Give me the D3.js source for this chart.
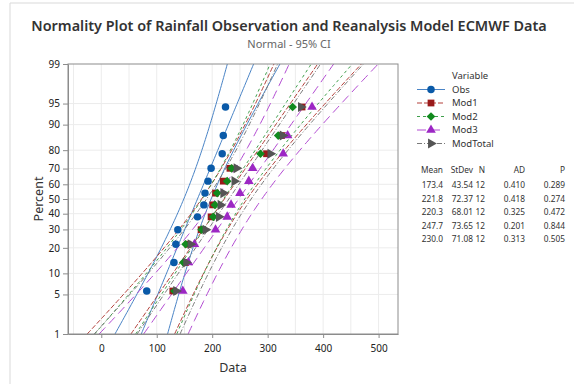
<!DOCTYPE html>
<html>
<head>
<meta charset="utf-8">
<script src="https://cdn.jsdelivr.net/npm/d3@7"></script>
<style>
  body { margin: 0; background: #fff; }
  svg { font-family: "Noto Sans", "Open Sans", sans-serif; }
</style>
</head>
<body>
<svg id="chart" width="574" height="384"></svg>
<script>
// data
const percentTicks = [1, 5, 10, 20, 30, 40, 50, 60, 70, 80, 90, 95, 99];
const xTicks = [0, 100, 200, 300, 400, 500];
const xGrid = [-50, 0, 50, 100, 150, 200, 250, 300, 350, 400, 450, 500];

const seriesNames = ["Obs", "Mod1", "Mod2", "Mod3", "ModTotal"];
const obs      = [82, 131, 134.5, 138, 173.5, 185, 187, 192.5, 198, 218, 220, 224];
const mod1     = [129, 152, 156, 180, 198, 201, 206, 220, 232, 298, 325, 362];
const mod2     = [132, 148, 152, 181, 202, 205, 209, 227, 235, 287, 319, 345];
const mod3     = [147, 157, 168, 206, 227, 234, 250, 266, 273, 328, 336, 380];
const modTotal = [135, 153, 161, 188, 212, 215, 220, 240, 244, 305, 327, 360];

const means  = [173.4, 221.8, 220.3, 247.7, 230.0];
const stdevs = [43.54, 72.37, 68.01, 73.65, 71.08];
const counts = [12, 12, 12, 12, 12];
const adVals = [0.410, 0.418, 0.325, 0.201, 0.313];
const pVals  = [0.289, 0.274, 0.472, 0.844, 0.505];

const styles = [
    { marker: "#0a5aa8", line: "#4a84c6", dash: null, symbol: d3.symbolCircle, size: 44, rot: 0 },
    { marker: "#9a1a1a", line: "#b3413b", dash: "5,2", symbol: d3.symbolSquare, size: 46, rot: 0 },
    { marker: "#118a1e", line: "#3f9f4c", dash: "3,3", symbol: d3.symbolSquare, size: 38, rot: 45 },
    { marker: "#9c27c4", line: "#b24ad2", dash: "9,5", symbol: d3.symbolTriangle, size: 40, rot: 0 },
    { marker: "#555555", line: "#7a7a7a", dash: "5,2,1,2", symbol: d3.symbolTriangle, size: 44, rot: 90 }
];

// inverse normal CDF (Acklam)
function probit(p) {
    const a = [-3.969683028665376e+01, 2.209460984245205e+02, -2.759285104469687e+02, 1.383577518672690e+02, -3.066479806614716e+01, 2.506628277459239e+00];
    const b = [-5.447609879822406e+01, 1.615858368580409e+02, -1.556989798598866e+02, 6.680131188771972e+01, -1.328068155288572e+01];
    const c = [-7.784894002430293e-03, -3.223964580411365e-01, -2.400758277161838e+00, -2.549671010050770e+00, 4.374664141464968e+00, 2.938163982698783e+00];
    const d = [7.784695709041462e-03, 3.224671290700398e-01, 2.445134137142996e+00, 3.754408661907416e+00];
    const pl = 0.02425;
    let q, r;
    if (p < pl) {
        q = Math.sqrt(-2 * Math.log(p));
        return (((((c[0]*q+c[1])*q+c[2])*q+c[3])*q+c[4])*q+c[5]) / ((((d[0]*q+d[1])*q+d[2])*q+d[3])*q+1);
    } else if (p <= 1 - pl) {
        q = p - 0.5; r = q * q;
        return (((((a[0]*r+a[1])*r+a[2])*r+a[3])*r+a[4])*r+a[5])*q / (((((b[0]*r+b[1])*r+b[2])*r+b[3])*r+b[4])*r+1);
    }
    q = Math.sqrt(-2 * Math.log(1 - p));
    return -(((((c[0]*q+c[1])*q+c[2])*q+c[3])*q+c[4])*q+c[5]) / ((((d[0]*q+d[1])*q+d[2])*q+d[3])*q+1);
}

const svg = d3.select("#chart");
const plot = { left: 68, right: 398, top: 64, bottom: 334 };

const x = d3.scaleLinear().domain([-60, 535]).range([plot.left, plot.right]);
const zMax = probit(0.99);
const y = d3.scaleLinear().domain([-zMax, zMax]).range([plot.bottom, plot.top]);

// outer frame lines
svg.append("line").attr("x1", 10).attr("x2", 10).attr("y1", 3).attr("y2", 384)
    .attr("stroke", "#d9d9d9");
svg.append("line").attr("x1", 10).attr("x2", 574).attr("y1", 3).attr("y2", 3)
    .attr("stroke", "#d9d9d9");

// titles
const title = svg.append("text")
    .attr("x", 289).attr("y", 31)
    .attr("text-anchor", "middle")
    .attr("font-size", 15).attr("font-weight", 600).attr("fill", "#333")
    .text("Normality Plot of Rainfall Observation and Reanalysis Model ECMWF Data");
const tw = title.node().getComputedTextLength();
title.attr("font-size", 15 * 516 / tw);

svg.append("text")
    .attr("x", 289).attr("y", 48)
    .attr("text-anchor", "middle")
    .attr("font-size", 11).attr("fill", "#666")
    .text("Normal - 95% CI");

// grid
const grid = svg.append("g");
grid.selectAll("line.vg").data(xGrid).enter().append("line")
    .attr("x1", d => x(d)).attr("x2", d => x(d))
    .attr("y1", plot.top).attr("y2", plot.bottom)
    .attr("stroke", "#ececec");
grid.selectAll("line.hg").data(percentTicks.slice(1, -1)).enter().append("line")
    .attr("x1", plot.left).attr("x2", plot.right)
    .attr("y1", d => y(probit(d / 100))).attr("y2", d => y(probit(d / 100)))
    .attr("stroke", "#ececec");

// clip
svg.append("clipPath").attr("id", "clip").append("rect")
    .attr("x", plot.left).attr("y", plot.top)
    .attr("width", plot.right - plot.left).attr("height", plot.bottom - plot.top);

const g = svg.append("g").attr("clip-path", "url(#clip)");

// fitted lines and 95% CI bounds
const zs = d3.range(0, 101).map(i => -zMax + 2 * zMax * i / 100);
const lineGen = d3.line().x(d => x(d[0])).y(d => y(d[1]));

seriesNames.forEach((name, k) => {
    const m = means[k], s = stdevs[k], n = counts[k];
    const half = z => 1.96 * s * Math.sqrt(1 / n + z * z / (2 * n));
    const curves = [
        zs.map(z => [m + s * z - half(z), z]),
        zs.map(z => [m + s * z, z]),
        zs.map(z => [m + s * z + half(z), z])
    ];
    g.selectAll("path.s" + k).data(curves).enter().append("path")
        .attr("class", "s" + k)
        .attr("d", lineGen)
        .attr("fill", "none")
        .attr("stroke", styles[k].line)
        .attr("stroke-width", 1)
        .attr("stroke-dasharray", styles[k].dash);
});

// points
const allSeries = [obs, mod1, mod2, mod3, modTotal];
allSeries.forEach((vals, k) => {
    const n = vals.length;
    const pts = vals.map((v, i) => [v, probit((i + 1 - 0.3) / (n + 0.4))]);
    const st = styles[k];
    svg.selectAll("path.p" + k).data(pts).enter().append("path")
        .attr("class", "p" + k)
        .attr("d", d3.symbol().type(st.symbol).size(st.size))
        .attr("transform", d => `translate(${x(d[0])},${y(d[1])}) rotate(${st.rot})`)
        .attr("fill", st.marker);
});

// frame
svg.append("rect")
    .attr("x", plot.left).attr("y", plot.top)
    .attr("width", plot.right - plot.left).attr("height", plot.bottom - plot.top)
    .attr("fill", "none").attr("stroke", "#8c8c8c");

// axes
const xAxis = svg.append("g")
    .attr("transform", `translate(0,${plot.bottom})`)
    .call(d3.axisBottom(x).tickValues(xTicks).tickSize(4).tickSizeOuter(0));
const yAxis = svg.append("g")
    .attr("transform", `translate(${plot.left},0)`)
    .call(d3.axisLeft(y)
        .tickValues(percentTicks.map(p => probit(p / 100)))
        .tickFormat((d, i) => percentTicks[i])
        .tickSize(5).tickSizeOuter(0));
[xAxis, yAxis].forEach(ax => {
    ax.select(".domain").attr("stroke", "#8c8c8c");
    ax.selectAll(".tick line").attr("stroke", "#8c8c8c");
    ax.selectAll(".tick text").attr("font-size", 10).attr("fill", "#222")
        .attr("font-family", "Noto Sans, sans-serif");
});
xAxis.selectAll(".tick text").attr("dy", "1.1em");

svg.append("text")
    .attr("x", (plot.left + plot.right) / 2).attr("y", 372)
    .attr("text-anchor", "middle").attr("font-size", 12.5).attr("fill", "#333")
    .text("Data");
svg.append("text")
    .attr("transform", `translate(43,${(plot.top + plot.bottom) / 2}) rotate(-90)`)
    .attr("text-anchor", "middle").attr("font-size", 12.5).attr("fill", "#333")
    .text("Percent");

// legend
const legend = svg.append("g");
legend.append("text").attr("x", 452).attr("y", 79)
    .attr("font-size", 9.5).attr("fill", "#333").text("Variable");
const legendItems = legend.selectAll("g.item").data(seriesNames).enter().append("g")
    .attr("transform", (d, i) => `translate(0,${89.5 + i * 13.5})`);
legendItems.append("line")
    .attr("x1", 417).attr("x2", 445).attr("y1", 0).attr("y2", 0)
    .attr("stroke", (d, i) => styles[i].line)
    .attr("stroke-dasharray", (d, i) => styles[i].dash);
legendItems.append("path")
    .attr("d", (d, i) => d3.symbol().type(styles[i].symbol).size(styles[i].size)())
    .attr("transform", (d, i) => `translate(431,0) rotate(${styles[i].rot})`)
    .attr("fill", (d, i) => styles[i].marker);
legendItems.append("text")
    .attr("x", 452).attr("dy", "0.35em")
    .attr("font-size", 9.5).attr("fill", "#333")
    .text(d => d);

// statistics table
const cols = [
    { head: "Mean", right: 443, vals: means.map(v => v.toFixed(1)) },
    { head: "StDev", right: 473, vals: stdevs.map(v => v.toFixed(2)) },
    { head: "N", right: 485, vals: counts.map(String) },
    { head: "AD", right: 525, vals: adVals.map(v => v.toFixed(3)) },
    { head: "P", right: 565, vals: pVals.map(v => v.toFixed(3)) }
];
const table = svg.append("g").attr("font-size", 8.3).attr("fill", "#333")
    .attr("text-anchor", "end");
cols.forEach(c => {
    table.append("text").attr("x", c.right).attr("y", 173).text(c.head);
    table.selectAll(null).data(c.vals).enter().append("text")
        .attr("x", c.right).attr("y", (d, i) => 188 + i * 13.6)
        .text(d => d);
});
</script>
</body>
</html>
